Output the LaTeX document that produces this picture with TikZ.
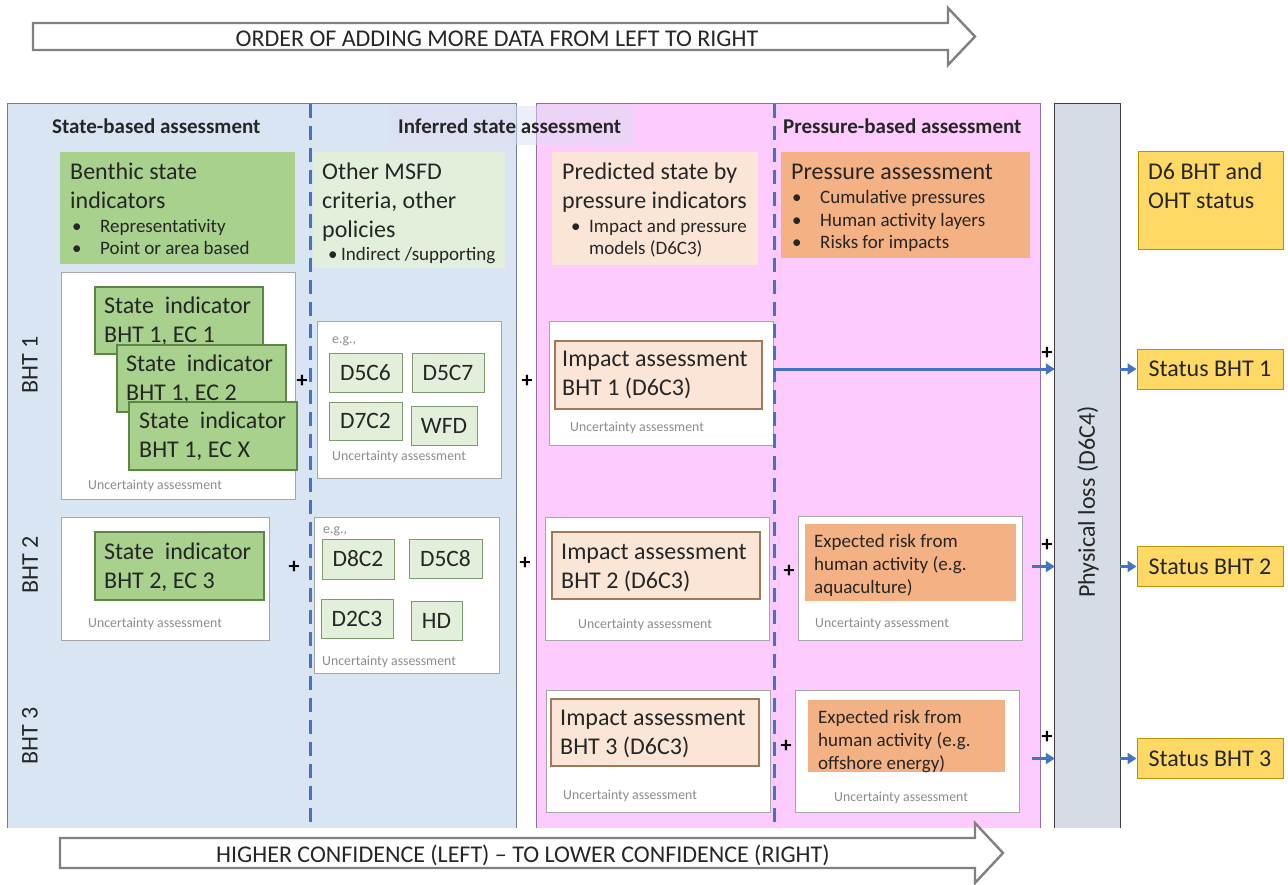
\documentclass[tikz,border=0pt]{standalone}
\usepackage{fontspec}
\setmainfont{Carlito}
\usetikzlibrary{arrows.meta}

\definecolor{txt}{HTML}{262626}
\definecolor{greytxt}{HTML}{8C8C8C}
\definecolor{panelblue}{HTML}{DAE5F3}
\definecolor{panelblueline}{HTML}{6A7F99}
\definecolor{panelpink}{HTML}{FDCBFD}
\definecolor{panelpinkline}{HTML}{8F6FA8}
\definecolor{lossgrey}{HTML}{D6DCE5}
\definecolor{bandlav}{HTML}{DEDDF3}
\definecolor{dashblue}{HTML}{4472C4}
\definecolor{stategreen}{HTML}{A9D18E}
\definecolor{stateline}{HTML}{5E8446}
\definecolor{palegreen}{HTML}{E2EFDA}
\definecolor{palegreenline}{HTML}{7E9A6E}
\definecolor{peach}{HTML}{FBE5D6}
\definecolor{peachline}{HTML}{A0785A}
\definecolor{orange}{HTML}{F4B183}
\definecolor{statusyellow}{HTML}{FFD966}
\definecolor{statusline}{HTML}{BF9000}
\definecolor{whiteline}{HTML}{A6A6A6}
\definecolor{arrowgrey}{HTML}{808080}

\begin{document}
\begin{tikzpicture}[x=1pt,y=-1pt,
  fbig/.style={font=\fontsize{24}{28}\selectfont},
  fbox/.style={font=\fontsize{24}{28}\selectfont},
  fcrit/.style={font=\fontsize{23.5}{27}\selectfont},
  fmid/.style={font=\fontsize{19}{22}\selectfont},
  frisk/.style={font=\fontsize{19}{22}\selectfont},
  fsml/.style={font=\fontsize{13.8}{16}\selectfont},
  fttl/.style={font=\fontsize{21}{25}\selectfont\bfseries},
  tx/.style={inner sep=0pt, anchor=base west, text=txt},
  unc/.style={inner sep=0pt, anchor=base west, text=greytxt, fsml},
  plus/.style={inner sep=0pt, text=black, font=\fontsize{22}{24}\selectfont\bfseries},
  area/.style={inner sep=0pt, draw=none},
  whitebox/.style={area, fill=white, draw=whiteline, line width=0.9pt},
  statebox/.style={area, fill=stategreen, draw=stateline, line width=1.1pt},
  critbox/.style={inner sep=0pt, fill=palegreen, draw=palegreenline, line width=1pt, text=txt, fcrit},
  impactbox/.style={area, fill=peach, draw=peachline, line width=1.1pt},
  riskbox/.style={area, fill=orange},
  statusbox/.style={inner sep=0pt, fill=statusyellow, draw=statusline, line width=1pt, text=txt, fbox},
  bigarrow/.style={draw=arrowgrey, fill=white, line width=2.4pt, line join=miter},
  dashline/.style={draw=dashblue, line width=3pt, dash pattern=on 14pt off 8pt},
  flow/.style={draw=dashblue, line width=3pt, -{Triangle[length=9pt,width=11pt]}},
  rot/.style={rotate=90, inner sep=0pt, text=txt, font=\fontsize{24}{28}\selectfont}
]
\useasboundingbox (0,0) rectangle (1288,884);

% ---------- arrow banners ----------
\draw[bigarrow] (33,23) -- (948,23) -- (948,8) -- (975,36.5) -- (948,65) -- (948,50) -- (33,50) -- cycle;
\node[inner sep=0pt, text=txt, font=\fontsize{24}{28}\selectfont] (ordertxt) at (497,39) {ORDER OF ADDING MORE DATA FROM LEFT TO RIGHT};

% ---------- background panels ----------
\node[area, fill=panelblue, minimum width=508pt, minimum height=724pt] (blue) at (262,466) {};
\draw[panelblueline, line width=1pt] (blue.south west) -- (blue.north west) -- (blue.north east) -- (blue.south east);
\node[area, fill=panelpink, minimum width=503pt, minimum height=724pt] (pink) at (788.5,466) {};
\draw[panelpinkline, line width=1pt] (pink.south west) -- (pink.north west) -- (pink.north east) -- (pink.south east);
\node[area, fill=lossgrey, minimum width=65pt, minimum height=724pt] (loss) at (1087.5,466) {};
\draw[black!75, line width=1pt] (loss.south west) -- (loss.north west) -- (loss.north east) -- (loss.south east);
\node[rot] (losstxt) at (1088,502) {Physical loss (D6C4)};

% title band of the inferred state column
\node[area, fill=bandlav, fill opacity=0.5, minimum width=244pt, minimum height=39pt] (band) at (511,125.5) {};

% column separators
\draw[dashline] (310.5,104) -- (310.5,828);
\draw[dashline] (774,104) -- (774,828);

% ---------- column titles ----------
\node[tx, fttl] (t1) at (52,133) {State-based assessment};
\node[tx, fttl] (t2) at (398,133) {Inferred state assessment};
\node[tx, fttl] (t3) at (783,133) {Pressure-based assessment};

% ---------- column headers ----------
\node[area, fill=stategreen, minimum width=235pt, minimum height=112pt] (h1) at (177.5,208) {};
\node[tx, fbig] at (70,179) {Benthic state};
\node[tx, fbig] at (70,208) {indicators};
\node[tx, fmid] at (72,232) {•};
\node[tx, fmid] at (100,232) {Representativity};
\node[tx, fmid] at (72,254) {•};
\node[tx, fmid] at (100,254) {Point or area based};

\node[area, fill=palegreen, minimum width=192pt, minimum height=116pt] (h2) at (409,210) {};
\node[tx, fbig] at (322,179) {Other MSFD};
\node[tx, fbig] at (322,208) {criteria, other};
\node[tx, fbig] at (322,237) {policies};
\node[tx, fmid] at (328,260) {•};
\node[tx, fmid] at (341,260) {Indirect /supporting};

\node[area, fill=peach, minimum width=206pt, minimum height=113pt] (h3) at (655,208.5) {};
\node[tx, fbig] at (562,179) {Predicted state by};
\node[tx, fbig] at (562,208) {pressure indicators};
\node[tx, fmid] at (571,232) {•};
\node[tx, fmid] at (589,232) {Impact and pressure};
\node[tx, fmid] at (589,254) {models (D6C3)};

\node[area, fill=orange, minimum width=249pt, minimum height=106pt] (h4) at (905.5,205) {};
\node[tx, fbig] at (791,179) {Pressure assessment};
\node[tx, fmid] at (792,203) {•};
\node[tx, fmid] at (820,203) {Cumulative pressures};
\node[tx, fmid] at (792,226) {•};
\node[tx, fmid] at (820,226) {Human activity layers};
\node[tx, fmid] at (792,248) {•};
\node[tx, fmid] at (820,248) {Risks for impacts};

\node[area, fill=statusyellow, draw=statusline, line width=1pt, minimum width=145pt, minimum height=98pt] (h5) at (1210.5,200.5) {};
\node[tx, fbig] at (1148,179) {D6 BHT and};
\node[tx, fbig] at (1148,208) {OHT status};

% ---------- habitat type labels ----------
\node[rot] (bht1) at (30,365) {BHT 1};
\node[rot] (bht2) at (30,565) {BHT 2};
\node[rot] (bht3) at (30,736) {BHT 3};

% ---------- BHT 1 ----------
\node[whitebox, minimum width=234pt, minimum height=227pt] (s1w) at (178,385.5) {};
\node[statebox, minimum width=168pt, minimum height=67pt] (s1a) at (179,320.5) {};
\node[tx, fbox] at (104,313) {State\ \ indicator};
\node[tx, fbox] at (104,342) {BHT 1, EC 1};
\node[statebox, minimum width=169pt, minimum height=67pt] (s1b) at (201.5,378.5) {};
\node[tx, fbox] at (126,371) {State\ \ indicator};
\node[tx, fbox] at (126,400) {BHT 1, EC 2};
\node[statebox, minimum width=168pt, minimum height=68pt] (s1c) at (213,436) {};
\node[tx, fbox] at (139,428) {State\ \ indicator};
\node[tx, fbox] at (139,457) {BHT 1, EC X};
\node[unc] at (88,489) {Uncertainty assessment};
\node[plus] (p11) at (302,381) {+};

\node[whitebox, minimum width=184pt, minimum height=157pt] (c1w) at (409,399.5) {};
\node[unc] at (332,343) {e.g.,};
\node[critbox, minimum width=73pt, minimum height=39pt] (d5c6) at (365.5,372.5) {D5C6};
\node[critbox, minimum width=72pt, minimum height=39pt] (d5c7) at (448,372.5) {D5C7};
\node[critbox, minimum width=73pt, minimum height=38pt] (d7c2) at (365.5,421) {D7C2};
\node[critbox, minimum width=66pt, minimum height=39pt] (wfd) at (444,425.5) {WFD};
\node[unc] at (332,460) {Uncertainty assessment};
\node[plus] (p12) at (527,381) {+};

\node[whitebox, minimum width=224pt, minimum height=124pt] (i1w) at (661,383) {};
\node[impactbox, minimum width=207pt, minimum height=68pt] (i1) at (658.5,375) {};
\node[tx, fbig] at (562,366) {Impact assessment};
\node[tx, fbig] at (562,395) {BHT 1 (D6C3)};
\node[unc] at (570,431) {Uncertainty assessment};

% ---------- BHT 2 ----------
\node[whitebox, minimum width=208pt, minimum height=123pt] (s2w) at (165,578.5) {};
\node[statebox, minimum width=169pt, minimum height=68pt] (s2a) at (179.5,566) {};
\node[tx, fbox] at (104,559) {State\ \ indicator};
\node[tx, fbox] at (104,588) {BHT 2, EC 3};
\node[unc] at (88,627) {Uncertainty assessment};
\node[plus] (p21) at (294,567) {+};

\node[whitebox, minimum width=185pt, minimum height=156pt] (c2w) at (406.5,595) {};
\node[unc] at (323,533) {e.g.,};
\node[critbox, minimum width=72pt, minimum height=40pt] (d8c2) at (358,559) {D8C2};
\node[critbox, minimum width=73pt, minimum height=39pt] (d5c8) at (445.5,558.5) {D5C8};
\node[critbox, minimum width=72pt, minimum height=39pt] (d2c3) at (357,618.5) {D2C3};
\node[critbox, minimum width=51pt, minimum height=39pt] (hd) at (436.5,620.5) {HD};
\node[unc] at (322,665) {Uncertainty assessment};
\node[plus] (p22) at (525,563) {+};

\node[whitebox, minimum width=224pt, minimum height=123pt] (i2w) at (657,578.5) {};
\node[impactbox, minimum width=208pt, minimum height=67pt] (i2) at (656,565.5) {};
\node[tx, fbig] at (561,559) {Impact assessment};
\node[tx, fbig] at (561,588) {BHT 2 (D6C3)};
\node[unc] at (578,628) {Uncertainty assessment};
\node[plus] (p23) at (789,571) {+};

\node[whitebox, minimum width=224pt, minimum height=124pt] (r2w) at (910,578) {};
\node[riskbox, minimum width=211pt, minimum height=77pt] (r2) at (910.5,562.5) {};
\node[tx, frisk] at (814,547) {Expected risk from};
\node[tx, frisk] at (814,570) {human activity (e.g.};
\node[tx, frisk] at (814,593) {aquaculture)};
\node[unc] at (815,627) {Uncertainty assessment};

% ---------- BHT 3 ----------
\node[whitebox, minimum width=224pt, minimum height=122pt] (i3w) at (658,751) {};
\node[impactbox, minimum width=208pt, minimum height=67pt] (i3) at (655,732.5) {};
\node[tx, fbig] at (560,725) {Impact assessment};
\node[tx, fbig] at (560,754) {BHT 3 (D6C3)};
\node[unc] at (563,799) {Uncertainty assessment};
\node[plus] (p33) at (786,746) {+};

\node[whitebox, minimum width=224pt, minimum height=122pt] (r3w) at (907,751) {};
\node[riskbox, minimum width=197pt, minimum height=72pt] (r3) at (906.5,736) {};
\node[tx, frisk] at (818,723) {Expected risk from};
\node[tx, frisk] at (818,746) {human activity (e.g.};
\node[tx, frisk] at (818,769) {offshore energy)};
\node[unc] at (834,801) {Uncertainty assessment};

% the impact/risk boxes sit on the pressure separator: redraw it on top
\draw[dashline] (774,104) -- (774,828);

% ---------- status outputs ----------
\node[statusbox, minimum width=146pt, minimum height=40pt] (st1) at (1210,369) {Status BHT 1};
\node[statusbox, minimum width=146pt, minimum height=40pt] (st2) at (1210,566.5) {Status BHT 2};
\node[statusbox, minimum width=146pt, minimum height=40pt] (st3) at (1210,758.5) {Status BHT 3};

\draw[flow] (i1w.east |- st1) -- (loss.west |- st1);
\draw[flow] ([xshift=10pt]r2w.east |- st2) -- (loss.west |- st2);
\draw[flow] ([xshift=13pt]r3w.east |- st3) -- (loss.west |- st3);
\draw[flow] (loss.east |- st1) -- (st1.west);
\draw[flow] (loss.east |- st2) -- (st2.west);
\draw[flow] (loss.east |- st3) -- (st3.west);
\node[plus] (q1) at (1047,353) {+};
\node[plus] (q2) at (1047,545) {+};
\node[plus] (q3) at (1047,737) {+};

\draw[bigarrow] (60,838) -- (975,838) -- (975,823) -- (1003,853) -- (975,883) -- (975,868) -- (60,868) -- cycle;
\node[inner sep=0pt, text=txt, font=\fontsize{24}{28}\selectfont] (conftxt) at (523,855) {HIGHER CONFIDENCE (LEFT) – TO LOWER CONFIDENCE (RIGHT)};
\end{tikzpicture}
\end{document}
